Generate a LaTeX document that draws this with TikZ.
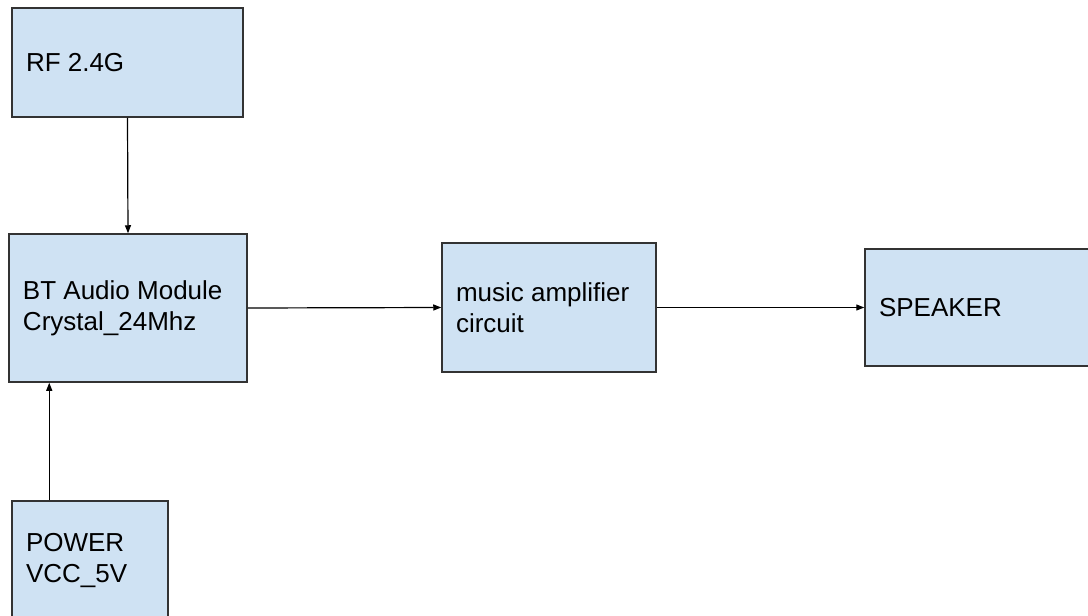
\documentclass[tikz,border=0pt]{standalone}
\usepackage{fontspec}
\setmainfont{Liberation Sans}
\usepackage{tikz}
\usetikzlibrary{arrows.meta, positioning}
\definecolor{boxblue}{RGB}{207,226,243}
\definecolor{boxedge}{RGB}{51,51,51}

\begin{document}
\begin{tikzpicture}[
    x=1pt, y=-1pt,
    box/.style={rectangle, draw=boxedge, fill=boxblue, line width=1.5pt, inner xsep=14pt, inner ysep=0pt, align=flush left, font=\fontsize{26}{31}\selectfont},
    arrow/.style={-{Triangle[length=8pt, width=6pt]}, line width=1.2pt}
]
    \useasboundingbox[fill=white] (0,0) rectangle (1088,616);

    % Sources
    \node[box, text width=203pt, minimum height=109pt] (rf) at (127.5, 62.5) {RF 2.4G};
    \node[box, text width=210pt, minimum height=148pt] (bt) at (128, 308) {BT Audio Module\\Crystal\_24Mhz};
    \node[box, text width=128pt, minimum height=120pt] (pwr) at (90, 561) {POWER\\VCC\_5V};

    % Chain
    \node[box, text width=186pt, minimum height=129pt] (amp) at (549, 307.5) {music amplifier\\circuit};
    \node[box, text width=212pt, minimum height=117pt] (spk) at (985, 307.5) {SPEAKER};

    % Arrows
    \draw[arrow] (rf.south) -- (bt.north);
    \draw[arrow] ([xshift=38pt]pwr.north west) -- ([xshift=38pt]pwr.north west |- bt.south);
    \draw[arrow] (bt.east) -- (amp.west);
    \draw[arrow] (amp.east) -- (spk.west);
\end{tikzpicture}
\end{document}
